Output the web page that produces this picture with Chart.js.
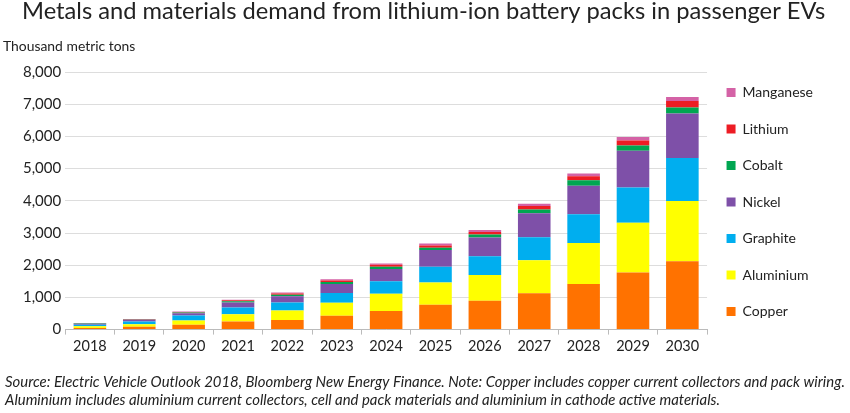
<!DOCTYPE html>
<html>
<head>
<meta charset="utf-8">
<script src="https://cdn.jsdelivr.net/npm/chart.js@4.4.1/dist/chart.umd.min.js"></script>
<style>
  html, body { margin: 0; padding: 0; background: #fff; }
  #wrap { width: 850px; height: 413px; }
</style>
</head>
<body>
<div id="wrap"><canvas id="chart"></canvas></div>
<script>
const years = ['2018', '2019', '2020', '2021', '2022', '2023', '2024', '2025', '2026', '2027', '2028', '2029', '2030'];

// thousand metric tons
const copper    = [50, 90, 150, 250, 300, 430, 580, 770, 895, 1130, 1420, 1770, 2120];
const aluminium = [55, 75, 130, 230, 290, 400, 530, 695, 800, 1020, 1270, 1545, 1870];
const graphite  = [45, 85, 155, 210, 250, 310, 395, 490, 580, 715, 890, 1100, 1340];
const nickel    = [35, 55, 75, 155, 195, 280, 375, 515, 585, 750, 890, 1140, 1380];
const cobalt    = [10, 12, 20, 35, 45, 55, 75, 75, 90, 115, 165, 165, 190];
const lithium   = [8, 10, 18, 30, 40, 50, 60, 70, 80, 105, 125, 155, 200];
const manganese = [5, 6, 12, 20, 30, 35, 40, 60, 60, 70, 85, 110, 120];

const yTicks = [0, 1000, 2000, 3000, 4000, 5000, 6000, 7000, 8000];

const titleText = 'Metals and materials demand from lithium-ion battery packs in passenger EVs';
const unitText = 'Thousand metric tons';
const noteLines = [
  'Source: Electric Vehicle Outlook 2018, Bloomberg New Energy Finance. Note: Copper includes copper current collectors and pack wiring.',
  'Aluminium includes aluminium current collectors, cell and pack materials and aluminium in cathode active materials.'
];

const FONT = 'Lato, "Noto Sans", sans-serif';

// heading, unit label and footnote are written straight onto the canvas
const texts = {
  id: 'texts',
  afterDraw(chart) {
    const ctx = chart.ctx;
    ctx.save();
    ctx.fillStyle = '#222';
    ctx.textBaseline = 'alphabetic';
    ctx.font = '23.7px ' + FONT;
    ctx.fillText(titleText, 22, 19);
    ctx.font = '13.9px ' + FONT;
    ctx.fillText(unitText, 3, 51);
    ctx.font = 'italic 14.9px ' + FONT;
    ctx.textBaseline = 'middle';
    ctx.fillText(noteLines[0], 5, 382);
    ctx.fillText(noteLines[1], 5, 400);
    ctx.restore();
  }
};

// nudge the legend block so it sits beside the bars like the original
const legendNudge = {
  id: 'legendNudge',
  afterLayout(chart) {
    const lg = chart.legend;
    lg.top -= 13;
    lg.bottom -= 13;
    lg.left -= 3;
    lg.right -= 3;
  }
};

const ds = (label, data, color) => ({ label, data, backgroundColor: color, borderWidth: 0 });

new Chart(document.getElementById('chart'), {
  type: 'bar',
  data: {
    labels: years,
    datasets: [
      ds('Copper', copper, '#FF7200'),
      ds('Aluminium', aluminium, '#FFFF00'),
      ds('Graphite', graphite, '#00AEEF'),
      ds('Nickel', nickel, '#7E50A8'),
      ds('Cobalt', cobalt, '#00A651'),
      ds('Lithium', lithium, '#ED1C24'),
      ds('Manganese', manganese, '#D462A6'),
    ],
  },
  options: {
    responsive: true,
    maintainAspectRatio: false,
    animation: false,
    barPercentage: 0.66,
    categoryPercentage: 1,
    layout: {
      padding: { left: 19, right: 24, top: 72, bottom: 55 },
    },
    scales: {
      x: {
        stacked: true,
        grid: { display: true, drawOnChartArea: false, drawTicks: true, tickLength: 5, color: '#bbb', offset: true },
        border: { color: '#bbb' },
        ticks: { color: '#222', font: { family: FONT, size: 14.5 }, padding: 3 },
      },
      y: {
        stacked: true,
        min: 0,
        max: 8000,
        afterBuildTicks: (axis) => { axis.ticks = yTicks.map((v) => ({ value: v })); },
        grid: { color: '#ddd', drawTicks: false },
        border: { display: false },
        ticks: {
          color: '#222',
          font: { family: FONT, size: 15 },
          padding: 4,
          callback: (v) => v.toLocaleString('en-US'),
        },
      },
    },
    plugins: {
      title: { display: false },
      legend: {
        position: 'right',
        reverse: true,
        labels: {
          boxWidth: 9,
          boxHeight: 9,
          padding: 22.5,
          color: '#222',
          font: { family: FONT, size: 14 },
        },
      },
      tooltip: { enabled: false },
    },
  },
  plugins: [texts, legendNudge],
});
</script>
</body>
</html>
